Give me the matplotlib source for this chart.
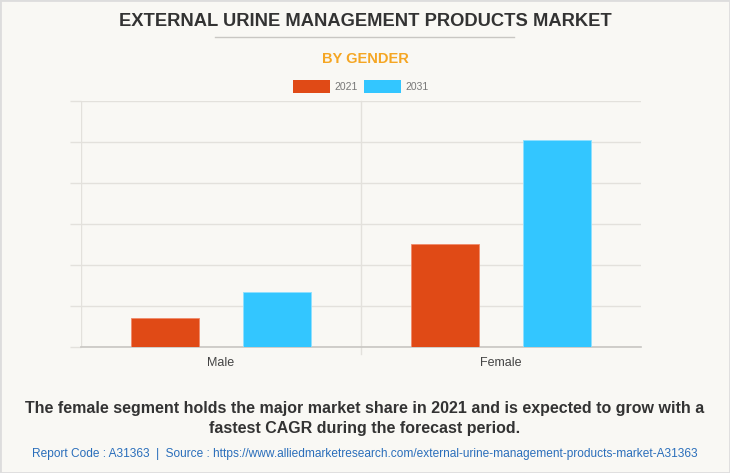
import matplotlib
matplotlib.use("Agg")
import matplotlib.pyplot as plt
from matplotlib import font_manager
from matplotlib.patches import Rectangle
import numpy as np

# data (grid step = 100)
categories = ["Male", "Female"]
years = ["2021", "2031"]
values_2021 = [71, 250]
values_2031 = [135, 505]
colors = ["#e04a16", "#33c6ff"]

names = {f.name for f in font_manager.fontManager.ttflist}
narrow = "Liberation Sans Narrow" if "Liberation Sans Narrow" in names else "Liberation Sans"
plt.rcParams["font.family"] = ["Liberation Sans", "DejaVu Sans"]

bg = "#f9f8f4"
W, H = 730, 473
fig = plt.figure(figsize=(W / 100, H / 100), dpi=100, facecolor=bg)

# axes placed in pixel coordinates
left, right, top, bottom = 81, 641, 101, 347
ax = fig.add_axes([left / W, 1 - bottom / H, (right - left) / W, (bottom - top) / H])
ax.set_facecolor(bg)

x = np.arange(len(categories))
bw = 0.24
off = 0.2
ax.bar(x - off, values_2021, bw, color=colors[0], edgecolor="#f08a6a", linewidth=0.6, label=years[0], zorder=3)
ax.bar(x + off, values_2031, bw, color=colors[1], edgecolor="#8fe0ff", linewidth=0.6, label=years[1], zorder=3)

ax.set_xlim(-0.5, 1.5)
ax.set_ylim(0, 600)
ax.set_yticks(np.arange(0, 601, 100))
ax.set_yticklabels([])
ax.tick_params(axis="y", length=8, color="#e3e1dc", width=1)
ax.grid(axis="y", color="#e3e1dc", linewidth=1, zorder=0)
ax.set_xticks(x)
ax.set_xticklabels(categories, fontsize=9, color="#444444")
ax.tick_params(axis="x", length=0, pad=7)
for s in ["top", "right", "left"]:
    ax.spines[s].set_visible(False)
ax.spines["bottom"].set_color("#c8c6c2")
ax.spines["bottom"].set_linewidth(1.2)
ax.axvline(-0.5, color="#e3e1dc", linewidth=1, zorder=1)
ax.axvline(0.5, ymin=-0.03, color="#e3e1dc", linewidth=1, zorder=1, clip_on=False)

# titles
fig.text(0.5, 1 - 21 / H, "EXTERNAL URINE MANAGEMENT PRODUCTS MARKET", ha="center", va="center",
         fontsize=13.2, fontweight="bold", color="#333333", family=[narrow, "DejaVu Sans"])
fig.add_artist(plt.Line2D([215 / W, 514 / W], [1 - 37 / H, 1 - 37 / H], color="#c9c7c3", linewidth=1))
fig.text(0.5, 1 - 59 / H, "BY GENDER", ha="center", va="center",
         fontsize=10.5, fontweight="bold", color="#f5a623", family=[narrow, "DejaVu Sans"])

# legend
for i, yr in enumerate(years):
    x0 = [293, 364][i]
    fig.add_artist(Rectangle((x0 / W, 1 - 93.5 / H), 37 / W, 13 / H, facecolor=colors[i],
                             edgecolor="none", transform=fig.transFigure))
    fig.text((x0 + 41) / W, 1 - 87 / H, yr, ha="left", va="center", fontsize=7.5,
             color="#777777", family=[narrow, "DejaVu Sans"])

# footer
fig.text(0.5, 1 - 408 / H, "The female segment holds the major market share in 2021 and is expected to grow with a",
         ha="center", va="center", fontsize=11.5, fontweight="bold", color="#333333")
fig.text(0.5, 1 - 428 / H, "fastest CAGR during the forecast period.",
         ha="center", va="center", fontsize=11.5, fontweight="bold", color="#333333")
fig.text(0.5, 1 - 454 / H,
         "Report Code : A31363  |  Source : https://www.alliedmarketresearch.com/external-urine-management-products-market-A31363",
         ha="center", va="center", fontsize=8.6, color="#2a6ebb", family=[narrow, "DejaVu Sans"])

fig.add_artist(Rectangle((0, 0), 1, 1, transform=fig.transFigure, fill=False,
                         edgecolor="#dddddd", linewidth=2))

fig.savefig("out.png", dpi=100, facecolor=bg)
